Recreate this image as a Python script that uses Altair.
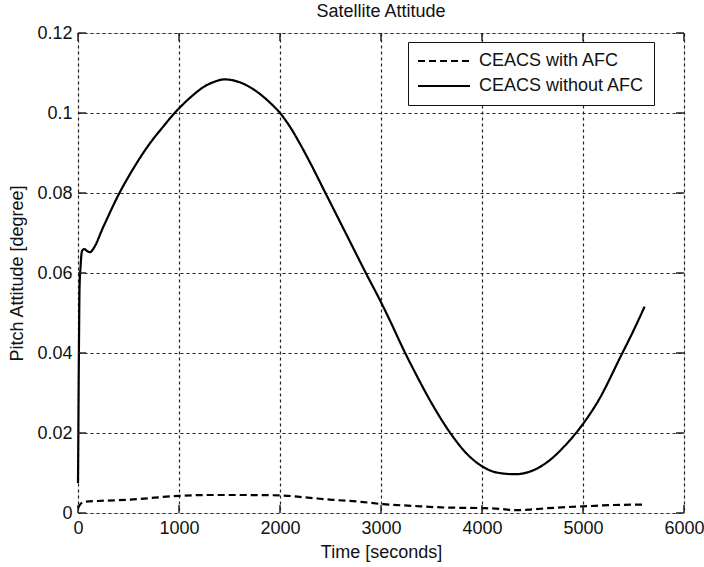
import altair as alt
import pandas as pd

# Series: CEACS without AFC (solid)
t_without = [0, 3, 6, 10, 15, 25, 40, 60, 90, 120, 150, 250, 400, 550, 700, 850, 950,
             1100, 1250, 1350, 1450, 1600, 1750, 1900, 2000, 2100, 2200, 2300, 2440, 2650,
             2850, 3000, 3100, 3220, 3350, 3500, 3700, 3850, 4000, 4150, 4330, 4500, 4660,
             4820, 4980, 5150, 5380, 5500, 5610]
v_without = [0.0075, 0.018, 0.030, 0.043, 0.056, 0.0615, 0.0655, 0.066, 0.0655, 0.0652, 0.066,
             0.0715, 0.0795, 0.0862, 0.0920, 0.0968, 0.0998, 0.1036, 0.1066, 0.1078, 0.1084,
             0.1077, 0.1057, 0.1026, 0.1000, 0.0965, 0.0922, 0.0875, 0.0805, 0.0700, 0.0600,
             0.0527, 0.0475, 0.0410, 0.0345, 0.0275, 0.0195, 0.0148, 0.0117, 0.0101, 0.0097,
             0.0106, 0.0130, 0.0168, 0.0216, 0.0280, 0.0395, 0.0456, 0.0516]

# Series: CEACS with AFC (dashed)
t_with = [0, 20, 60, 200, 550, 1000, 1300, 1580, 2000, 2250, 2520, 2800, 3020, 3300, 3600,
          4030, 4200, 4340, 4500, 4650, 5040, 5300, 5620]
v_with = [0.0012, 0.0021, 0.0028, 0.0030, 0.0034, 0.0043, 0.0045, 0.0045, 0.0044, 0.0039,
          0.0033, 0.0028, 0.0022, 0.0018, 0.0014, 0.0012, 0.0010, 0.0007, 0.0009, 0.0012,
          0.0017, 0.0020, 0.0021]

series_names = ["CEACS with AFC", "CEACS without AFC"]
x_ticks = [0, 1000, 2000, 3000, 4000, 5000, 6000]
y_ticks = [0, 0.02, 0.04, 0.06, 0.08, 0.1, 0.12]

df = pd.concat([
    pd.DataFrame({"t": t_with, "v": v_with, "series": series_names[0], "o": range(len(t_with))}),
    pd.DataFrame({"t": t_without, "v": v_without, "series": series_names[1], "o": range(len(t_without))}),
])

FONT = "Liberation Sans"
W, H = 606, 480

xscale = alt.Scale(domain=[0, 6000], nice=False, zero=False)
yscale = alt.Scale(domain=[0, 0.12], nice=False, zero=False)

lines = alt.Chart(df).mark_line(color="black", strokeWidth=2.2, interpolate="monotone").encode(
    x=alt.X("t:Q", scale=xscale, title="Time [seconds]",
            axis=alt.Axis(values=x_ticks, format="d", grid=True, gridDash=[3, 3],
                          gridColor="#222", gridWidth=1.2, ticks=False, domain=False,
                          labelFontSize=18, labelPadding=6, titleFontSize=18,
                          titlePadding=6, labelColor="#111", titleColor="#111",
                          labelFlush=False, labelOverlap=False,
                          labelFont=FONT, titleFont=FONT, titleFontWeight="normal")),
    y=alt.Y("v:Q", scale=yscale, title="Pitch Attitude [degree]",
            axis=alt.Axis(values=y_ticks, format="~g", grid=True, gridDash=[3, 3],
                          gridColor="#222", gridWidth=1.2, ticks=False, domain=False,
                          labelFontSize=18, labelPadding=6, titleFontSize=18,
                          titlePadding=10, labelColor="#111", titleColor="#111",
                          labelFlush=False, labelOverlap=False,
                          labelFont=FONT, titleFont=FONT, titleFontWeight="normal")),
    strokeDash=alt.StrokeDash(
        "series:N",
        scale=alt.Scale(domain=series_names, range=[[7, 4], [1, 0]]),
        legend=alt.Legend(title=None, orient="none", legendX=330, legendY=9,
                          fillColor="white", strokeColor="#111", padding=9,
                          symbolType="stroke", symbolSize=2700, symbolStrokeWidth=2,
                          symbolStrokeColor="black", labelFontSize=18, labelFont=FONT,
                          labelColor="#111", rowPadding=5, labelOffset=8, clipHeight=20,
                          labelLimit=300, cornerRadius=0)),
    order="o:Q",
)

xt = pd.DataFrame({"t": x_ticks})
yt = pd.DataFrame({"v": y_ticks})
tick_color = "#222"
xtick_bottom = alt.Chart(xt).mark_rule(color=tick_color, strokeWidth=1.5).encode(
    x=alt.X("t:Q", scale=xscale), y=alt.value(H), y2=alt.value(H - 8))
xtick_top = alt.Chart(xt).mark_rule(color=tick_color, strokeWidth=1.5).encode(
    x=alt.X("t:Q", scale=xscale), y=alt.value(0), y2=alt.value(8))
ytick_left = alt.Chart(yt).mark_rule(color=tick_color, strokeWidth=1.5).encode(
    y=alt.Y("v:Q", scale=yscale), x=alt.value(0), x2=alt.value(8))
ytick_right = alt.Chart(yt).mark_rule(color=tick_color, strokeWidth=1.5).encode(
    y=alt.Y("v:Q", scale=yscale), x=alt.value(W), x2=alt.value(W - 8))

chart = alt.layer(lines, xtick_bottom, xtick_top, ytick_left, ytick_right).properties(
    width=W, height=H,
    title=alt.TitleParams("Satellite Attitude", fontSize=18, font=FONT, fontWeight="normal",
                          color="#111", offset=3, anchor="middle"),
    autosize=alt.AutoSizeParams(type="none"),
    padding={"left": 78, "top": 33, "right": 20, "bottom": 54},
).configure_view(stroke="#333", strokeWidth=1.5).configure(background="white")

chart.save("out.html", embed_options={"renderer": "svg", "actions": False})
